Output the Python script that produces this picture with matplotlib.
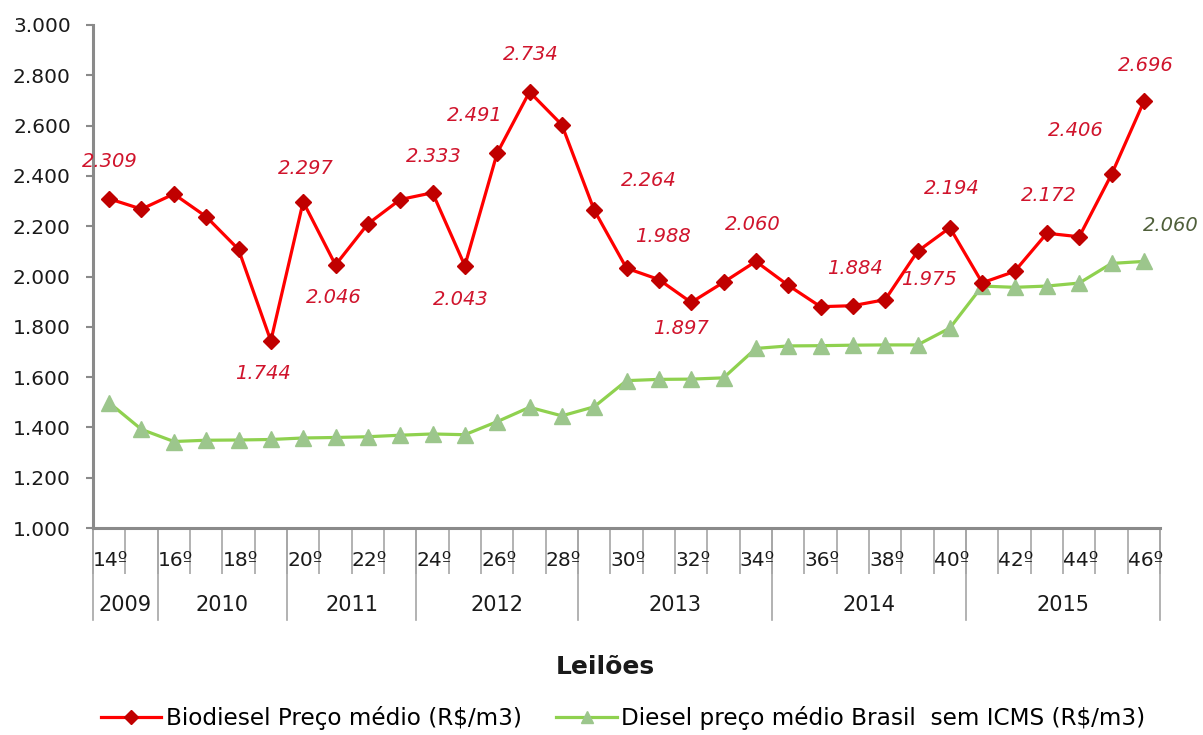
import matplotlib
matplotlib.use("Agg")
from matplotlib import pyplot as plt
from matplotlib.ticker import FuncFormatter, FixedLocator
from matplotlib.transforms import blended_transform_factory

auctions = list(range(14, 47))
years = ["2009", "2010", "2011", "2012", "2013", "2014", "2015"]
auctions_per_year = [2, 4, 4, 5, 6, 6, 6]

biodiesel = [2309, 2268, 2328, 2238, 2108, 1744, 2297, 2046, 2209, 2306,
             2333, 2043, 2491, 2734, 2603, 2264, 2033, 1988, 1897, 1977,
             2060, 1965, 1880, 1884, 1908, 2100, 2194, 1975, 2020, 2172,
             2158, 2406, 2696]
diesel = [1498, 1392, 1344, 1349, 1350, 1352, 1358, 1360, 1363, 1369,
          1374, 1371, 1423, 1480, 1446, 1482, 1586, 1591, 1592, 1597,
          1714, 1724, 1725, 1727, 1728, 1728, 1795, 1962, 1957, 1962,
          1974, 2052, 2060]

biodiesel_labelled = [0, 5, 6, 7, 10, 11, 12, 13, 15, 17, 18, 20, 23, 26, 27, 29, 31, 32]
diesel_labelled = [32]

# label offsets in pixels (dx, dy)
bio_offsets = {0: (1, 37), 5: (-8, -33), 6: (3, 33), 7: (-2, -33), 10: (1, 36),
               11: (-4, -34), 12: (-22, 38), 13: (1, 37), 15: (55, 30), 17: (4, 43),
               18: (-10, -26), 20: (-3, 37), 23: (2, 37), 26: (2, 39), 27: (-53, 3),
               29: (2, 38), 31: (-36, 44), 32: (2, 36)}
diesel_offsets = {32: (27, 36)}

RED_LINE = "#ff0000"
RED_MARK = "#c00000"
RED_TEXT = "#d0142c"
GREEN_LINE = "#8fd14f"
GREEN_MARK = "#9cc68c"
GREEN_TEXT = "#4f5f3a"
AXIS_GREY = "#8a8a8a"

plt.rcParams["font.family"] = "DejaVu Sans"

fig = plt.figure(figsize=(12.03, 7.35), dpi=100)
ax = fig.add_axes([0.0773, 0.2816, 0.8870, 0.6844])

x = list(range(len(auctions)))
ax.plot(x, biodiesel, color=RED_LINE, lw=2.3, marker="D", ms=8.5,
        markerfacecolor=RED_MARK, markeredgecolor=RED_MARK,
        label="Biodiesel Preço médio (R$/m3)", zorder=3)
ax.plot(x, diesel, color=GREEN_LINE, lw=2.3, marker="^", ms=11,
        markerfacecolor=GREEN_MARK, markeredgecolor=GREEN_MARK,
        label="Diesel preço médio Brasil  sem ICMS (R$/m3)", zorder=2)


def fmt(v):
    return f"{v:,.0f}".replace(",", ".")


for i in biodiesel_labelled:
    ax.annotate(fmt(biodiesel[i]), (x[i], biodiesel[i]), xytext=bio_offsets[i],
                textcoords="offset pixels", ha="center", va="center",
                fontsize=14, style="italic", color=RED_TEXT, zorder=4)
for i in diesel_labelled:
    ax.annotate(fmt(diesel[i]), (x[i], diesel[i]), xytext=diesel_offsets[i],
                textcoords="offset pixels", ha="center", va="center",
                fontsize=14, style="italic", color=GREEN_TEXT, zorder=4)

ax.set_xlim(-0.5, len(auctions) - 0.5)
ax.set_ylim(1000, 3000)
ax.yaxis.set_major_locator(FixedLocator(range(1000, 3001, 200)))
ax.yaxis.set_major_formatter(FuncFormatter(lambda v, _: fmt(v)))
ax.tick_params(axis="y", labelsize=14.5, length=5, width=1.5, color=AXIS_GREY,
               labelcolor="#1a1a1a", pad=11)

for side in ["top", "right"]:
    ax.spines[side].set_visible(False)
for side in ["left", "bottom"]:
    ax.spines[side].set_color(AXIS_GREY)
    ax.spines[side].set_linewidth(2.2)

# category separators as ticks
ax.set_xticks([i - 0.5 for i in range(len(auctions) + 1)])
ax.set_xticklabels([])
ax.tick_params(axis="x", length=33, width=1.2, color="#a6a6a6")

trans = blended_transform_factory(ax.transData, ax.transAxes)
for i, a in enumerate(auctions):
    if a % 2 == 0:
        ax.text(x[i] + 0.05, -0.064, f"{a}º", transform=trans, ha="center", va="center",
                fontsize=14.5, color="#1a1a1a")

start = 0
bounds = [-0.5]
for y, n in zip(years, auctions_per_year):
    mid = start + (n - 1) / 2
    ax.text(mid, -0.153, y, transform=trans, ha="center", va="center",
            fontsize=15, color="#1a1a1a")
    start += n
    bounds.append(start - 0.5)
for b in bounds:
    ax.plot([b, b], [0, -0.183], transform=trans, color="#a6a6a6", lw=1.2,
            clip_on=False)

fig.text(0.503, 1 - 667 / 735, "Leilões", ha="center", va="center",
         fontsize=18, fontweight="bold", color="#1a1a1a")

fig.legend(loc="center", bbox_to_anchor=(0.518, 1 - 718 / 735), ncol=2,
           frameon=False, fontsize=16.7, handlelength=2.6, columnspacing=1.5,
           handletextpad=0.2, markerscale=0.8)

fig.savefig("out.png", dpi=100)
